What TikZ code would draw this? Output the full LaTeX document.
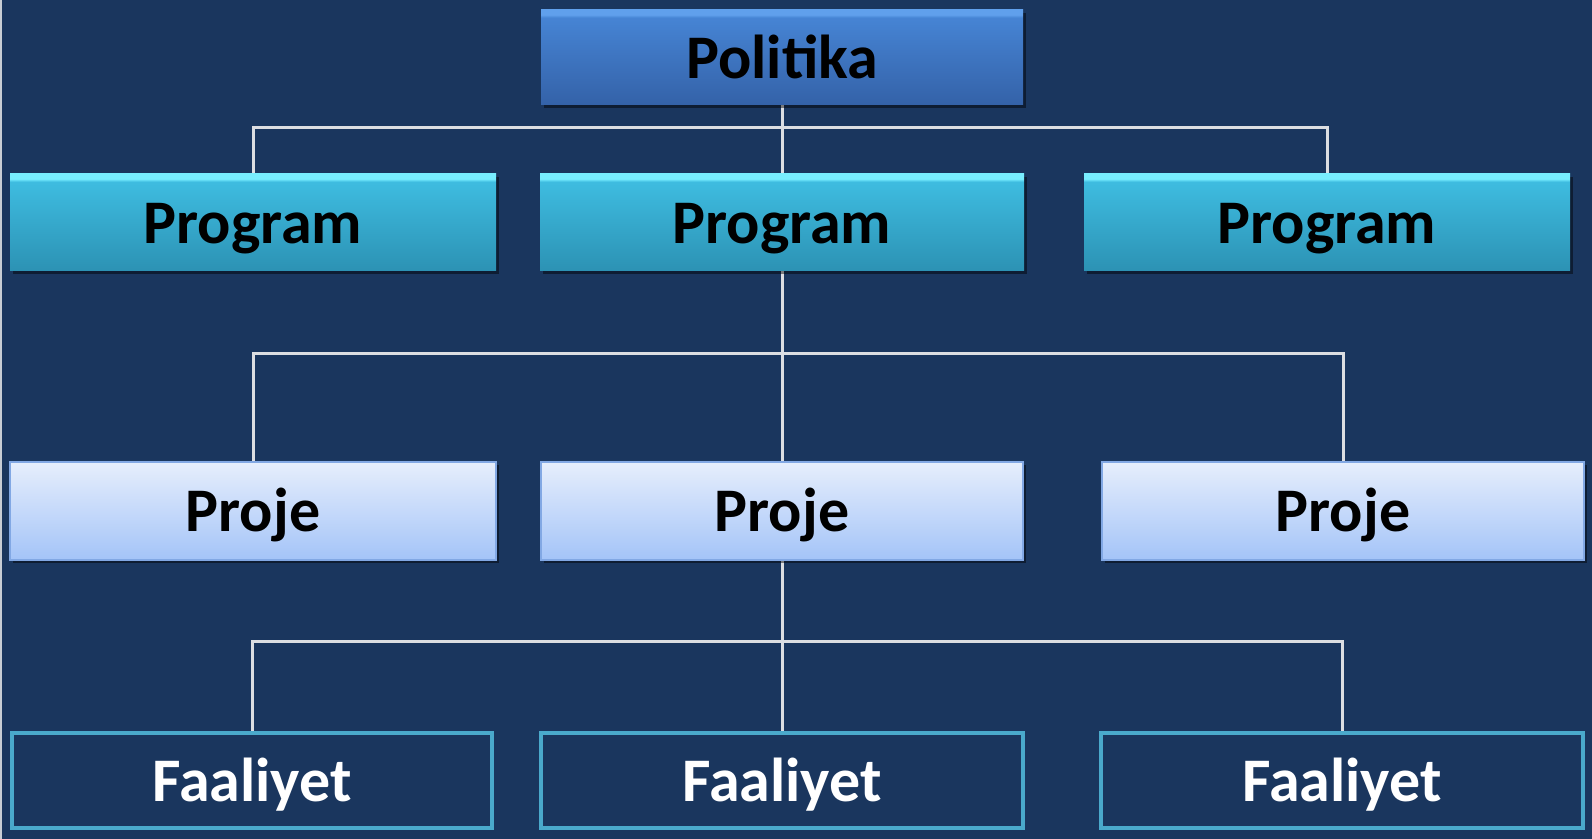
\documentclass[tikz,border=0pt]{standalone}
\usepackage{fontspec}
\setmainfont{Carlito}
\usetikzlibrary{backgrounds,shadows}
\definecolor{bgnavy}{RGB}{26,54,94}
\definecolor{edgegray}{RGB}{200,205,212}
\definecolor{polhi}{RGB}{96,160,236}
\definecolor{poltop}{RGB}{70,132,212}
\definecolor{polbot}{RGB}{52,98,168}
\definecolor{proghi}{RGB}{120,238,255}
\definecolor{progtop}{RGB}{62,188,224}
\definecolor{progbot}{RGB}{44,146,180}
\definecolor{projtop}{RGB}{230,238,252}
\definecolor{projbot}{RGB}{164,196,248}
\definecolor{projedge}{RGB}{130,168,228}
\definecolor{faaledge}{RGB}{74,169,203}
\definecolor{connc}{RGB}{220,222,226}
\pgfdeclareverticalshading{polsh}{100bp}{color(0bp)=(polbot); color(25bp)=(polbot); color(71bp)=(poltop); color(72.5bp)=(polhi); color(75bp)=(polhi); color(100bp)=(polhi)}
\pgfdeclareverticalshading{progsh}{100bp}{color(0bp)=(progbot); color(25bp)=(progbot); color(71bp)=(progtop); color(72.5bp)=(proghi); color(75bp)=(proghi); color(100bp)=(proghi)}
\pgfdeclareverticalshading{projsh}{100bp}{color(0bp)=(projbot); color(25bp)=(projbot); color(75bp)=(projtop); color(100bp)=(projtop)}
\tikzset{
  boxbase/.style={rectangle, inner sep=0pt, font=\fontsize{31}{36}\selectfont\bfseries,
    text height=21pt, text depth=0pt, align=center},
  boxshadow/.style={drop shadow={opacity=0.45, shadow xshift=1.5pt, shadow yshift=-1.5pt, fill=black}},
  polbox/.style={boxbase, boxshadow, shading=polsh, minimum width=241pt, minimum height=47.5pt, text=black},
  progbox/.style={boxbase, boxshadow, shading=progsh, minimum height=48.5pt, text=black},
  projbox/.style={boxbase, boxshadow, shading=projsh, draw=projedge, line width=0.6pt, minimum height=49pt, text=black},
  faalbox/.style={boxbase, draw=faaledge, line width=2pt, fill=bgnavy, minimum height=47.5pt, text=white},
  conn/.style={draw=connc, line width=1.5pt}
}
\begin{document}
\begin{tikzpicture}[x=0.5pt,y=-0.5pt]
\useasboundingbox (0,0) rectangle (1592,839);
% nodes
\node[polbox] (pol) at (782,57.5) {Politika};
\node[progbox, minimum width=243pt] (prog1) at (253,222.5) {Program};
\node[progbox, minimum width=242pt] (prog2) at (782,222.5) {Program};
\node[progbox, minimum width=243pt] (prog3) at (1327,222.5) {Program};
\node[projbox, minimum width=243pt] (proj1) at (253,511) {Proje};
\node[projbox, minimum width=241pt] (proj2) at (782,511) {Proje};
\node[projbox, minimum width=241pt] (proj3) at (1343,511) {Proje};
\node[faalbox, minimum width=240pt] (faal1) at (252,780.5) {Faaliyet};
\node[faalbox, minimum width=241pt] (faal2) at (782,780.5) {Faaliyet};
\node[faalbox, minimum width=241pt] (faal3) at (1342,780.5) {Faaliyet};
\coordinate (h1) at (782,128);
\coordinate (h2) at (782,354);
\coordinate (h3) at (782,642);
\begin{scope}[on background layer]
  \fill[bgnavy] (0,0) rectangle (1592,839);
  \fill[edgegray] (0,0) rectangle (2,839);
  \draw[conn] (pol.south) -- (prog2.north);
  \draw[conn] (prog1.north) |- (h1) -| (prog3.north);
  \draw[conn] (prog2.south) -- (proj2.north);
  \draw[conn] (proj1.north) |- (h2) -| (proj3.north);
  \draw[conn] (proj2.south) -- (faal2.north);
  \draw[conn] (faal1.north) |- (h3) -| (faal3.north);
\end{scope}
\end{tikzpicture}
\end{document}
